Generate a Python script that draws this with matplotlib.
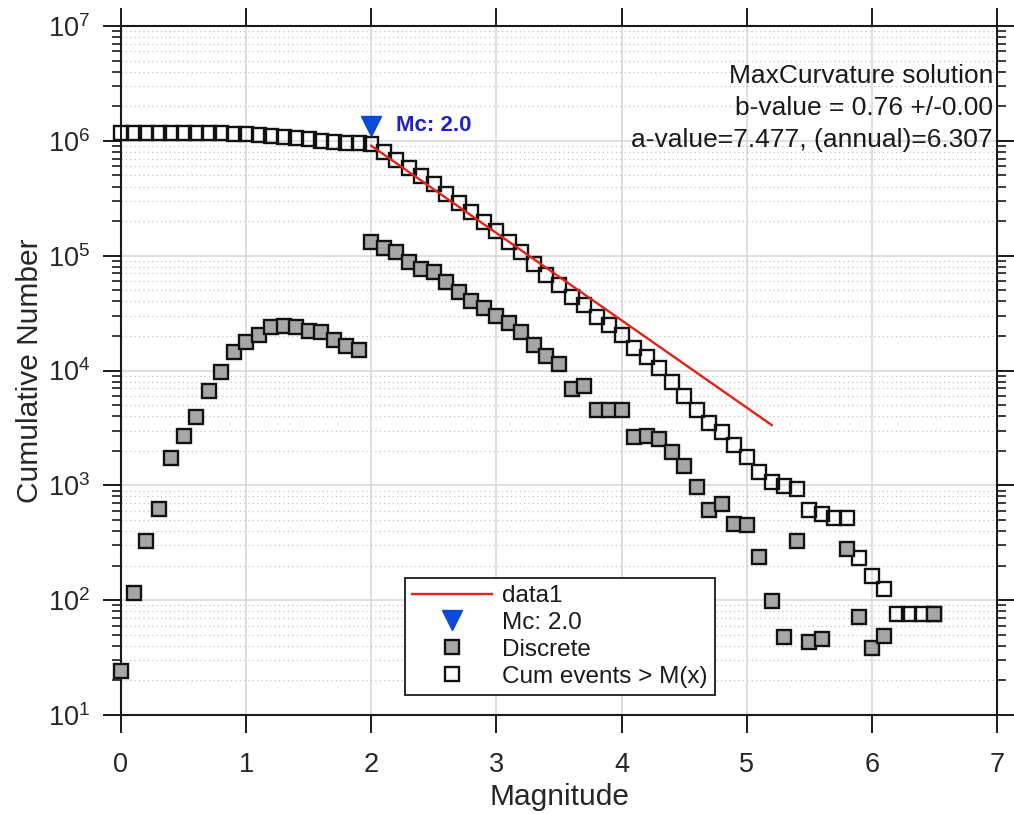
import numpy as np
import matplotlib
matplotlib.use("Agg")
import matplotlib.pyplot as plt
from matplotlib.ticker import NullLocator, LogLocator, FixedLocator

plt.rcParams['font.family'] = ['Liberation Sans', 'DejaVu Sans']
plt.rcParams['mathtext.default'] = 'regular'

# Magnitude bins (0.1 step)
magnitude = [0.0, 0.1, 0.2, 0.3, 0.4, 0.5, 0.6, 0.7, 0.8, 0.9,
             1.0, 1.1, 1.2, 1.3, 1.4, 1.5, 1.6, 1.7, 1.8, 1.9,
             2.0, 2.1, 2.2, 2.3, 2.4, 2.5, 2.6, 2.7, 2.8, 2.9,
             3.0, 3.1, 3.2, 3.3, 3.4, 3.5, 3.6, 3.7, 3.8, 3.9,
             4.0, 4.1, 4.2, 4.3, 4.4, 4.5, 4.6, 4.7, 4.8, 4.9,
             5.0, 5.1, 5.2, 5.3, 5.4, 5.5, 5.6, 5.7, 5.8, 5.9,
             6.0, 6.1, 6.2, 6.3, 6.4, 6.5]

# Events per magnitude bin (0 = empty bin)
discrete = [24, 116, 327, 626, 1730, 2710, 3920, 6660, 9640, 14400,
            17800, 20400, 23800, 24500, 23800, 22200, 21500, 18500, 16200, 15200,
            131800, 115600, 106700, 87300, 76400, 72300, 58500, 47900, 40500, 34800,
            30000, 25900, 21500, 16700, 13400, 11400, 6910, 7380, 4560, 4560,
            4560, 2620, 2710, 2540, 1940, 1470, 964, 604, 690, 462,
            453, 238, 98, 48, 327, 43, 46, 0, 281, 72,
            38, 49, 0, 0, 0, 76]

# Cumulative number of events >= M
cumulative = [1178492, 1178468, 1178352, 1178025, 1177399, 1175669, 1172959, 1169039, 1162379, 1152739,
              1138339, 1120539, 1100139, 1076339, 1051839, 1028039, 1005839, 984339, 965839, 949639,
              934439, 802639, 687039, 580339, 493039, 416639, 344339, 285839, 237939, 197439,
              162639, 132639, 106739, 85239, 68539, 55139, 43739, 36829, 29449, 24889,
              20329, 15769, 13149, 10439, 7899, 5959, 4489, 3525, 2921, 2231,
              1769, 1316, 1078, 980, 932, 605, 562, 516, 516, 235,
              163, 125, 76, 76, 76, 76]

# Gutenberg-Richter fit (maximum curvature)
mc = 2.0
mc_marker_y = 1.35e6
b_value = 0.76
a_value = 7.477
a_annual = 6.307
fit_range = [2.0, 5.2]

mag = np.array(magnitude)
disc = np.array(discrete, dtype=float)
disc[disc <= 0] = np.nan
cum = np.array(cumulative, dtype=float)

W, H = 1014, 814
fig = plt.figure(figsize=(W / 100, H / 100), dpi=100)
ax = fig.add_axes([121 / W, 1 - 715 / H, 876 / W, 689 / H])

ax.set_yscale('log')
ax.set_xlim(0, 7)
ax.set_ylim(10, 1e7)

ax.xaxis.set_major_locator(FixedLocator(range(0, 8)))
ax.xaxis.set_minor_locator(NullLocator())
ax.yaxis.set_major_locator(LogLocator(base=10, numticks=10))
ax.yaxis.set_minor_locator(LogLocator(base=10, subs=np.arange(2, 10), numticks=20))

ax.set_axisbelow(True)
ax.grid(True, which='major', axis='both', color='#d6d6d6', lw=1.1, ls='-')
ax.grid(True, which='minor', axis='y', color='#c4c4c4', lw=0.9, ls=(0, (1, 2.5)))

fg = '#262626'
for s in ax.spines.values():
    s.set_linewidth(1.5)
    s.set_color('#1a1a1a')

ax.tick_params(which='major', direction='out', length=13, width=1.4,
               top=True, right=True, color='#1a1a1a', labelcolor=fg, labelsize=19.5)
ax.tick_params(which='minor', direction='out', length=6.5, width=1.2,
               top=False, right=True, color='#1a1a1a')
ax.tick_params(axis='x', which='major', pad=14)
ax.tick_params(axis='y', which='major', pad=9)

h_cum, = ax.plot(mag, cum, ls='none', marker='s', ms=10.5, mfc='none', mec='#111111',
                 mew=1.7, zorder=3, clip_on=False, label='Cum events > M(x)')
h_disc, = ax.plot(mag, disc, ls='none', marker='s', ms=10.5, mfc='#a6a6a6', mec='#111111',
                  mew=1.7, zorder=4, clip_on=False, label='Discrete')

fit_m = mag[(mag >= fit_range[0] - 1e-9) & (mag <= fit_range[1] + 1e-9)]
h_fit, = ax.plot(fit_m, 10 ** (a_value - b_value * fit_m), color='#e32119', lw=1.7,
                 zorder=5, label='data1')
h_mc, = ax.plot([mc], [mc_marker_y], ls='none', marker='v', ms=15, color='#0a4ad6',
                mec='#0a4ad6', zorder=6, clip_on=False, label='Mc: %.1f' % mc)
ax.text(mc + 0.2, mc_marker_y, 'Mc: %.1f' % mc, color='#2020c8', fontsize=16,
        fontweight='bold', ha='left', va='center', zorder=7)

ax.text(0.9955, 0.927, 'MaxCurvature solution', transform=ax.transAxes,
        ha='right', va='center', fontsize=19, color='#1a1a1a')
ax.text(0.9955, 0.881, 'b-value = %.2f +/-0.00' % b_value, transform=ax.transAxes,
        ha='right', va='center', fontsize=19, color='#1a1a1a')
ax.text(0.9955, 0.8345, 'a-value=%.3f, (annual)=%.3f' % (a_value, a_annual),
        transform=ax.transAxes, ha='right', va='center', fontsize=19, color='#1a1a1a')

ax.set_xlabel('Magnitude', fontsize=21.5, color=fg, labelpad=3)
ax.set_ylabel('Cumulative Number', fontsize=21.5, color=fg, labelpad=3)

leg = ax.legend(handles=[h_fit, h_mc, h_disc, h_cum], loc='lower left',
                bbox_to_anchor=(0.324, 0.029), borderaxespad=0, fontsize=17.5,
                frameon=True, fancybox=False, framealpha=1, edgecolor='#1a1a1a',
                handlelength=3.3, handletextpad=0.4, labelspacing=0.2,
                borderpad=0.3)
leg.get_frame().set_linewidth(1.3)
for t in leg.get_texts():
    t.set_color('#1a1a1a')

fig.savefig('out.png', dpi=100, facecolor='white')
